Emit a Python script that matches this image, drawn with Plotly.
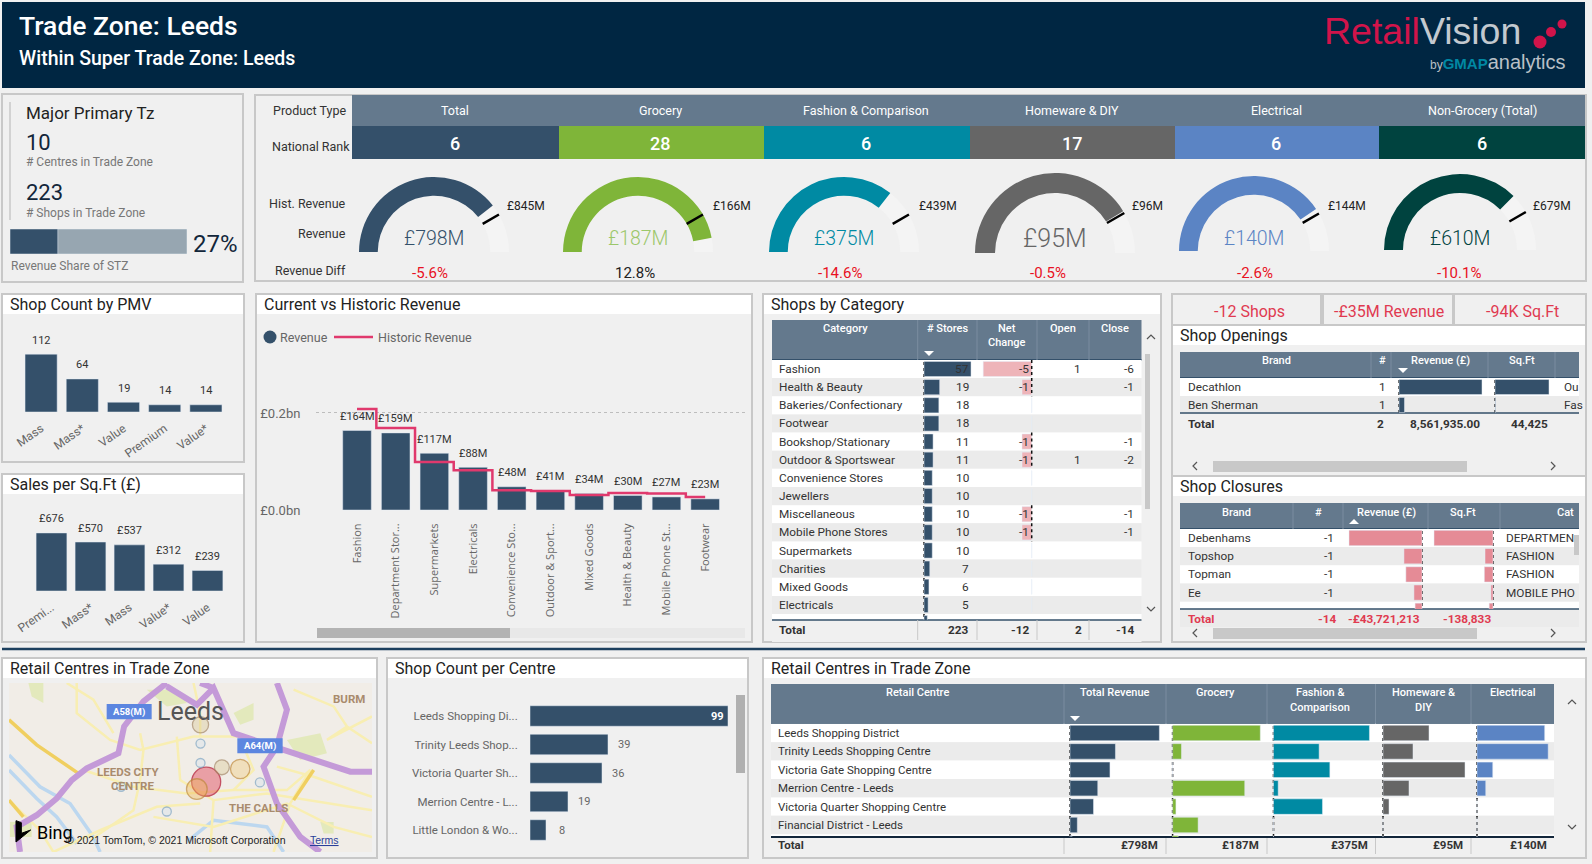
"""plot.py - Retail trade zone dashboard"""

import numpy as np
import plotly.graph_objects as go

W, H = 1592, 864
FONT = "Roboto"
HEAD = "#64798d"
NAVY = "#34506a"
PAGE = "#f0f0f0"
EDGE = "#c8c8c8"
TEXT = "#333333"
GREY = "#666666"
RED = "#e81123"
KPI_RED = "#e03a50"
ROSE = "#e58b96"

# ---- data ----
product_types = ["Total", "Grocery", "Fashion & Comparison", "Homeware & DIY", "Electrical", "Non-Grocery (Total)"]
product_colors = ["#34506a", "#7fb539", "#008aa3", "#666666", "#5b84c4", "#00433f"]
national_rank = [6, 28, 6, 17, 6, 6]
gauge_revenue = [798, 187, 375, 95, 140, 610]
gauge_historic = [845, 166, 439, 96, 144, 679]
gauge_diff = ["-5.6%", "12.8%", "-14.6%", "-0.5%", "-2.6%", "-10.1%"]

revenue_share = 27

pmv_names = ["Mass", "Mass*", "Value", "Premium", "Value*"]
pmv_counts = [112, 64, 19, 14, 14]

sales_names = ["Premi...", "Mass*", "Mass", "Value*", "Value"]
sales_sqft = [676, 570, 537, 312, 239]

rev_names = ["Fashion", "Department Stor...", "Supermarkets", "Electricals", "Convenience Sto...",
             "Outdoor & Sport...", "Mixed Goods", "Health & Beauty", "Mobile Phone St...", "Footwear"]
rev_current = [164, 159, 117, 88, 48, 41, 34, 30, 27, 23]
rev_historic = [208, 169, 99, 82, 41, 39, 31, 35, 34, 27]

cat_names = ["Fashion", "Health & Beauty", "Bakeries/Confectionary", "Footwear", "Bookshop/Stationary",
             "Outdoor & Sportswear", "Convenience Stores", "Jewellers", "Miscellaneous",
             "Mobile Phone Stores", "Supermarkets", "Charities", "Mixed Goods", "Electricals"]
cat_stores = [57, 19, 18, 18, 11, 11, 10, 10, 10, 10, 10, 7, 6, 5, 4]
cat_net = [-5, -1, None, None, -1, -1, None, None, -1, -1, None, None, None, None]
cat_open = [1, None, None, None, None, 1, None, None, None, None, None, None, None, None]
cat_close = [-6, -1, None, None, -1, -2, None, None, -1, -1, None, None, None, None]

kpi_labels = ["-12 Shops", "-£35M Revenue", "-94K Sq.Ft"]

open_brands = ["Decathlon", "Ben Sherman"]
open_count = [1, 1]
open_revenue = [8.03, 0.53]
open_sqft = [44000, 425]
open_cat = ["Ou", "Fas"]

close_brands = ["Debenhams", "Topshop", "Topman", "Ee"]
close_count = [-1, -1, -1, -1]
close_revenue = [-19.0, -4.7, -4.2, -2.1, -1.8]
close_sqft = [-85000, -11500, -12500, -3000, -5500]
close_cat = ["DEPARTMEN", "FASHION", "FASHION", "MOBILE PHO"]

centre_names = ["Leeds Shopping Di...", "Trinity Leeds Shop...", "Victoria Quarter Sh...", "Merrion Centre - L...", "Little London & Wo..."]
centre_shops = [99, 39, 36, 19, 8]

table_centres = ["Leeds Shopping District", "Trinity Leeds Shopping Centre", "Victoria Gate Shopping Centre",
                 "Merrion Centre - Leeds", "Victoria Quarter Shopping Centre", "Financial District - Leeds"]
table_total = [293, 149, 131, 91, 77, 24, 6]
table_grocery = [79, 8, 0, 65, 3, 23, 5]
table_fashion = [143, 68, 84, 7, 73, 0, 0]
table_homeware = [23, 15, 41, 13, 3, 0, 0]
table_electrical = [58, 61, 13.5, 7.5, 0, 0, 0]
table_totals = ["£798M", "£187M", "£375M", "£95M", "£140M"]

map_x = [618, 590, 720, 601, 665, 601, 601, 779, 363, 500]
map_y = [335, 357, 297, 165, 292, 221, 279, 337, 350, 424]
map_revenue = table_total[:5] + [24, 6, 5, 4, 3]
map_fill = ["rgba(224,60,80,.62)", "rgba(240,185,90,.6)", "rgba(240,200,110,.5)", "rgba(215,195,140,.5)",
            "rgba(215,195,140,.5)"] + ["rgba(205,225,240,.45)"] * 5
map_line = ["#b0102c", "#c08a3a", "#c08a3a", "#a58a68", "#a58a68"] + ["#7fa6c4"] * 5

# ---- page helpers, everything in screen pixels ----
shapes = []
annots = []
traces = []
layout_axes = {}
axis_count = 0


def fx(p):
    return p / W


def fy(p):
    return 1 - p / H


def rect(x0, y0, x1, y1, fill=None, line=None, lw=0):
    shapes.append(dict(type="rect", xref="paper", yref="paper", x0=fx(x0), x1=fx(x1), y0=fy(y0), y1=fy(y1),
                       fillcolor=fill, line=dict(color=line, width=lw), layer="below"))


def seg(x0, y0, x1, y1, color, lw=1, dash=None):
    shapes.append(dict(type="line", xref="paper", yref="paper", x0=fx(x0), x1=fx(x1), y0=fy(y0), y1=fy(y1),
                       line=dict(color=color, width=lw, dash=dash), layer="below"))


def circle(cx, cy, r, fill, layer="above"):
    shapes.append(dict(type="circle", xref="paper", yref="paper", x0=fx(cx - r), x1=fx(cx + r),
                       y0=fy(cy - r), y1=fy(cy + r), fillcolor=fill, line=dict(width=0), layer=layer))


def path(points, fill=None, color=None, lw=1, close=False):
    d = "M" + " L".join(f"{fx(x)},{fy(y)}" for x, y in points) + (" Z" if close else "")
    shapes.append(dict(type="path", xref="paper", yref="paper", path=d, fillcolor=fill,
                       line=dict(color=color, width=lw)))


def txt(x, y, s, size=11.5, color=TEXT, anchor="left", weight=None, font=FONT):
    annots.append(dict(text=s, x=fx(x), y=fy(y), xref="paper", yref="paper", xanchor=anchor, yanchor="middle",
                       showarrow=False, align=anchor, borderpad=0,
                       font=dict(size=size, color=color, family=font, weight=weight)))


def panel(x0, y0, x1, y1, title=None, title_x=None):
    rect(x0, y0, x1, y1, PAGE, EDGE, 2)
    if title:
        rect(x0 + 1, y0 + 1, x1 - 1, y0 + 20, "white")
        txt(title_x or x0 + 7, y0 + 10.5, title, 16, "#222222")


def chevron(x, y, d, color="#555555", s=4):
    pts = {"up": [(x - s, y + s / 2), (x, y - s / 2), (x + s, y + s / 2)],
           "down": [(x - s, y - s / 2), (x, y + s / 2), (x + s, y - s / 2)],
           "left": [(x + s / 2, y - s), (x - s / 2, y), (x + s / 2, y + s)],
           "right": [(x - s / 2, y - s), (x + s / 2, y), (x - s / 2, y + s)]}[d]
    path(pts, color=color, lw=1.2)


def sort_arrow(x, y, up=False):
    s = -1 if up else 1
    path([(x - 5, y - 2 * s), (x + 5, y - 2 * s), (x, y + 3 * s)], fill="white", color="white", lw=0, close=True)


def axes(x0, y0, x1, y1, xaxis=None, yaxis=None):
    global axis_count
    axis_count += 1
    n = axis_count
    ax = dict(visible=False, fixedrange=True)
    layout_axes[f"xaxis{n}"] = dict(ax, domain=[fx(x0), fx(x1)], anchor=f"y{n}", **(xaxis or {}))
    layout_axes[f"yaxis{n}"] = dict(ax, domain=[fy(y1), fy(y0)], anchor=f"x{n}", **(yaxis or {}))
    return f"x{n}", f"y{n}"


def vbars(x0, y0, x1, y1, names, values, ymax, labels, width, angle, tick_size=12, label_shift=14):
    xa, ya = axes(x0, y0, x1, y1,
                  dict(visible=True, type="category", dtick=1, tickangle=angle, showline=False, showgrid=False,
                       ticks="outside", ticklen=4, tickcolor="rgba(0,0,0,0)", zeroline=False,
                       tickfont=dict(size=tick_size, color=GREY, family=FONT),
                       range=[-0.5, len(names) - 0.5]),
                  dict(range=[0, ymax]))
    traces.append(go.Bar(x=names, y=values, width=width, marker_color=NAVY, xaxis=xa, yaxis=ya,
                         showlegend=False, hoverinfo="skip"))
    for name, v, s in zip(names, values, labels):
        annots.append(dict(text=s, x=name, y=v, xref=xa, yref=ya, yshift=label_shift, showarrow=False,
                           font=dict(size=11, color=TEXT, family=FONT)))


def table_bars(values, base, scale, left, right, top, bottom, first, step, color, dotted=True, marks=None):
    """horizontal in-cell bars: base is the zero pixel, scale the pixels per unit"""
    xa, ya = axes(left, top, right, bottom,
                  dict(range=[(left - base) / scale, (right - base) / scale]),
                  dict(range=[(bottom - first) / step, (top - first) / step]))
    rows_y = np.arange(len(values))
    traces.append(go.Bar(x=values, y=rows_y, orientation="h", width=0.84, marker_color=color, xaxis=xa, yaxis=ya,
                         showlegend=False, hoverinfo="skip"))
    if dotted:
        seg(base, top + 1, base, bottom, "#111111", 1.5, "dot")
    if marks is not None:
        for i, v in enumerate(marks):
            if v:
                shapes.append(dict(type="line", xref="paper", yref="paper", x0=fx(base), x1=fx(base),
                                   y0=fy(first + step * (i - .5)), y1=fy(first + step * (i + .5)),
                                   line=dict(color="#111111", width=1.5, dash="dot")))


def zebra(x0, x1, first, step, n, bottom):
    for i in range(n):
        a = first + step * (i - .5)
        b = min(first + step * (i + .5), bottom)
        rect(x0, a, x1, b, "white" if i % 2 == 0 else "#ebebeb")


def table_head(x0, y0, x1, y1, seps):
    rect(x0, y0, x1, y1, HEAD)
    seg(x0, y1, x1, y1, NAVY, 2)
    for s in seps:
        seg(s, y0, s, y1, "#7a8da0", 1)


# ---- page chrome ----
rect(2, 2, 1585, 88, "#002642")
txt(18, 26, "Trade Zone: Leeds", 26.5, "white", weight=500)
txt(18, 58, "Within Super Trade Zone: Leeds", 19.5, "white", weight=500)
txt(1323, 31, "<span style='color:#d1144a'>Retail</span><span style='color:#c3c9cf'>Vision</span>", 37.5,
    font="Liberation Sans")
txt(1567, 62, "<span style='color:#b9c0c7;font-size:12px'>by</span>"
    "<span style='color:#0088a3;font-size:15px'><b>GMAP</b></span>"
    "<span style='color:#b9c0c7'>analytics</span>", 20, anchor="right", font="Liberation Sans")
circle(1540, 42, 6.5, "#d1144a")
circle(1551, 32, 5, "#d1144a")
circle(1562, 24, 4.5, "#d1144a")
seg(2, 649, 1585, 649, "#1c3f5e", 2.5)

# ---- trade zone summary ----
panel(2, 94, 243, 282)
seg(10, 102, 10, 220, EDGE, 1.5)
txt(25, 113, "Major Primary Tz", 17, "#222222")
txt(25, 142, "10", 22, "#12263a")
txt(25, 162, "# Centres in Trade Zone", 12, "#777777")
txt(25, 192, "223", 22, "#12263a")
txt(25, 213, "# Shops in Trade Zone", 12, "#777777")
xa, ya = axes(10, 229, 187, 254, dict(range=[0, 100]), dict(range=[-.5, .5]))
traces.append(go.Bar(x=[100], y=[0], orientation="h", width=1, marker_color="#97a6b1", xaxis=xa, yaxis=ya,
                     showlegend=False, hoverinfo="skip"))
traces.append(go.Bar(x=[revenue_share], y=[0], orientation="h", width=1, marker_color=NAVY, xaxis=xa, yaxis=ya,
                     showlegend=False, hoverinfo="skip"))
txt(192, 244, f"{revenue_share}%", 24, "#12263a")
txt(10, 266, "Revenue Share of STZ", 12, "#777777")

# ---- gauges ----
panel(255, 95, 1586, 281)
col_edges = [352, 559, 764, 970, 1175, 1379, 1585]
title_cx = [455, 660, 866, 1072, 1276, 1482]
gauge_cx = [434, 638, 844, 1055, 1254, 1460]
gauge_base = [252, 252, 252, 253, 251, 250]
gauge_r = [75, 75, 75, 80, 75, 76]
limit_x = [526, 732, 938, 1147, 1347, 1552]
diff_x = [430, 635, 840, 1048, 1255, 1459]
rect(352, 95, 1585, 126, HEAD)
txt(348, 111, "Product Type", 12.5, anchor="right")
txt(351, 147, "National Rank", 12.5, anchor="right")
txt(347, 203, "Hist. Revenue", 12.5, anchor="right")
txt(347, 233, "Revenue", 12.5, anchor="right")
txt(347, 270, "Revenue Diff", 12.5, anchor="right")
for i, name in enumerate(product_types):
    rect(col_edges[i], 126, col_edges[i + 1], 159, product_colors[i])
    txt(title_cx[i], 111, name, 12.5, "white", "center")
    txt(title_cx[i], 143, str(national_rank[i]), 18, "white", "center", 500)
    cx, base, r = gauge_cx[i], gauge_base[i], gauge_r[i]
    traces.append(go.Indicator(
        mode="gauge", value=gauge_revenue[i],
        domain=dict(x=[fx(cx - r), fx(cx + r)], y=[fy(base), fy(base - r)]),
        gauge=dict(shape="angular", axis=dict(range=[0, gauge_historic[i] * 1.2], visible=False),
                   bar=dict(color=product_colors[i], thickness=1), bgcolor="#f4f4f4", borderwidth=0,
                   threshold=dict(line=dict(color="black", width=2.5), thickness=1, value=gauge_historic[i]))))
    big = 25 if gauge_revenue[i] == 95 else 19.5
    opacity_col = "#9cc76a" if i == 1 else product_colors[i]
    txt(cx, 238, f"£{gauge_revenue[i]}M", big, opacity_col, "center", 300)
    txt(limit_x[i], 206, f"£{gauge_historic[i]}M", 12, "#222222", "center")
    txt(diff_x[i], 273, gauge_diff[i], 15, RED if gauge_diff[i].startswith("-") else "#222222", "center")

# ---- small column charts ----
panel(2, 294, 244, 462, "Shop Count by PMV")
vbars(20.5, 350, 226.5, 412, pmv_names, pmv_counts, 120, [str(v) for v in pmv_counts], 0.78, -35)
panel(2, 474, 244, 642, "Sales per Sq.Ft (£)")
vbars(32, 527, 227, 591, sales_names, sales_sqft, 745, [f"£{v}" for v in sales_sqft], 0.79, -35)

# ---- current vs historic ----
panel(256, 294, 752, 642, "Current vs Historic Revenue")
circle(270, 337, 6.5, NAVY)
txt(279, 337, "Revenue", 12.5, GREY)
seg(334, 337, 373, 337, "#e0396d", 2.5)
txt(377, 337, "Historic Revenue", 12.5, GREY)
xa, ya = axes(316, 380, 745, 511,
              dict(visible=True, type="category", dtick=1, tickangle=-90, showgrid=False, showline=False,
                   zeroline=False, ticks="outside", ticklen=7, tickcolor="rgba(0,0,0,0)",
                   tickfont=dict(size=11, color=GREY, family="Open Sans"), range=[-1.06, 10.03]),
              dict(visible=True, range=[-2, 268], tickvals=[0, 200], ticktext=["£0.0bn", "£0.2bn"], showgrid=True,
                   griddash="dot", gridcolor="#bdbdbd", gridwidth=1, zeroline=False, showline=False,
                   ticks="outside", ticklen=12, tickcolor="rgba(0,0,0,0)",
                   tickfont=dict(size=13, color=GREY, family=FONT)))
traces.append(go.Bar(x=rev_names, y=rev_current, width=0.74, marker_color=NAVY, xaxis=xa, yaxis=ya,
                     showlegend=False, hoverinfo="skip"))
traces.append(go.Scatter(x=rev_names, y=rev_historic, mode="lines", line=dict(color="#e0396d", width=2.5, shape="hvh"),
                         xaxis=xa, yaxis=ya, showlegend=False, hoverinfo="skip"))
for name, v in zip(rev_names, rev_current):
    annots.append(dict(text=f"£{v}M", x=name, y=v, xref=xa, yref=ya, yshift=14, showarrow=False,
                       font=dict(size=11, color=TEXT, family=FONT)))
rect(317, 628, 745, 638, "#e8e8e8")
rect(317, 628, 510, 638, "#b3b3b3")

# ---- shops by category ----
panel(763, 294, 1161, 642, "Shops by Category")
cat_first, cat_step = 369, 18.15
table_head(772, 320, 1141.5, 360, [917.7, 977, 1037, 1089])
for x, s in [(845, "Category"), (947, "# Stores"), (1007, "Net"), (1063, "Open"), (1115, "Close")]:
    txt(x, 328, s, 11, "white", "center", 500)
txt(1007, 343, "Change", 11, "white", "center", 500)
sort_arrow(929, 353)
zebra(772, 1141.5, cat_first, cat_step, 15, 620)
table_bars(cat_stores, 924, 0.825, 920, 977, 361, 620, cat_first, cat_step, NAVY)
table_bars([v if v else 0 for v in cat_net], 1031.7, 9.7, 979, 1037, 361, 620, cat_first, cat_step, "#eeb4b9",
           dotted=False, marks=cat_net)
for i, name in enumerate(cat_names):
    y = cat_first + cat_step * i
    txt(778, y, name, 11.8)
    txt(970, y, str(cat_stores[i]), 11.8, anchor="right")
    if cat_net[i] is not None:
        txt(1030, y, str(cat_net[i]), 11.8, anchor="right")
    if cat_open[i] is not None:
        txt(1082, y, str(cat_open[i]), 11.8, anchor="right")
    if cat_close[i] is not None:
        txt(1135, y, str(cat_close[i]), 11.8, anchor="right")
rect(772, 620, 1141.5, 642, PAGE)
seg(772, 620, 1141.5, 620, NAVY, 1.5)
for s in [917.7, 977, 1037, 1089]:
    seg(s, 620, s, 640, EDGE, 1)
txt(778, 630, "Total", 11.8, weight=700)
txt(970, 630, "223", 11.8, anchor="right", weight=700)
txt(1030, 630, "-12", 11.8, anchor="right", weight=700)
txt(1083, 630, "2", 11.8, anchor="right", weight=700)
txt(1135, 630, "-14", 11.8, anchor="right", weight=700)
rect(1145, 354, 1150, 509, EDGE)
chevron(1151, 337, "up")
chevron(1151, 609, "down")

# ---- kpi strip ----
for (a, b), c, s in zip([(1172, 1321), (1323, 1453), (1454, 1586)], [1249, 1389, 1522], kpi_labels):
    rect(a, 294, b, 325, PAGE, EDGE, 2)
    txt(c, 311, s, 16, KPI_RED, "center")

# ---- shop openings ----
panel(1172, 325, 1586, 476, "Shop Openings", 1179)
open_first, open_step = 387, 18
table_head(1180, 352, 1579, 378, [1371, 1391, 1488, 1555])
for x, s in [(1276, "Brand"), (1382, "#"), (1440, "Revenue (£)"), (1522, "Sq.Ft")]:
    txt(x, 360, s, 11, "white", "center", 500)
sort_arrow(1403, 370)
zebra(1180, 1579, open_first, open_step, 2, 414)
table_bars(open_revenue, 1399, 83 / 8.03, 1395, 1488, 379, 414, open_first, open_step, NAVY)
table_bars(open_sqft, 1495, 54 / 44000, 1491, 1555, 379, 414, open_first, open_step, NAVY)
for i, name in enumerate(open_brands):
    y = open_first + open_step * i
    txt(1187, y, name, 11.8)
    txt(1382, y, str(open_count[i]), 11.8, anchor="center")
    txt(1563, y, open_cat[i], 11.8)
seg(1180, 413, 1579, 413, NAVY, 1.5)
txt(1187, 424, "Total", 11.8, weight=700)
txt(1385, 424, "2", 11.8, anchor="right", weight=700)
txt(1481, 424, "8,561,935.00", 11.8, anchor="right", weight=700)
txt(1549, 424, "44,425", 11.8, anchor="right", weight=700)
rect(1213, 461, 1467, 472, EDGE)
chevron(1195, 466, "left")
chevron(1553, 466, "right")

# ---- shop closures ----
panel(1172, 476, 1586, 642, "Shop Closures", 1179)
close_first, close_step = 538, 18.2
table_head(1180, 503, 1579, 529, [1293, 1343, 1428, 1500])
for x, s in [(1236, "Brand"), (1318, "#"), (1386, "Revenue (£)"), (1463, "Sq.Ft"), (1565, "Cat")]:
    txt(x, 512, s, 11, "white", "center", 500)
sort_arrow(1354, 522, up=True)
zebra(1180, 1579, close_first, close_step, 5, 609)
table_bars(close_revenue, 1422, 73 / 19.0, 1345, 1426, 530, 609, close_first, close_step, ROSE)
table_bars(close_sqft, 1493, 59 / 85000, 1430, 1497, 530, 609, close_first, close_step, ROSE)
for i, name in enumerate(close_brands):
    y = close_first + close_step * i
    txt(1187, y, name, 11.8)
    txt(1335, y, str(close_count[i]), 11.8, anchor="right")
    txt(1505, y, close_cat[i], 11.8)
rect(1180, 609, 1579, 627, "#ebebeb")
seg(1180, 609, 1579, 609, NAVY, 1.5)
txt(1187, 619, "Total", 11.8, KPI_RED, weight=700)
txt(1337, 619, "-14", 11.8, KPI_RED, "right", 700)
txt(1421, 619, "-£43,721,213", 11.8, KPI_RED, "right", 700)
txt(1492, 619, "-138,833", 11.8, KPI_RED, "right", 700)
rect(1213, 628, 1477, 639, EDGE)
chevron(1195, 633, "left")
chevron(1553, 633, "right")
rect(1574, 535, 1579, 555, EDGE)

# ---- map ----
panel(2, 658, 377, 858, "Retail Centres in Trade Zone")
map_left, map_top, map_right, map_bottom = 9, 683, 372, 852
rect(map_left, map_top, map_right, map_bottom, "#f1ede7")
xa, ya = axes(map_left, map_top, map_right, map_bottom, dict(range=[27, 1115]), dict(range=[545, 40]))
map_parks = [
    [(85, 40), (130, 40), (130, 100), (95, 80)],
    [(700, 130), (760, 100), (760, 150), (720, 165)],
    [(860, 210), (960, 190), (980, 250), (900, 270)],
    [(440, 60), (530, 60), (560, 100), (500, 110)],
    [(30, 455), (95, 455), (95, 500), (30, 500)],
    [(960, 455), (1000, 455), (1000, 490), (970, 490)],
]
for p in map_parks:
    traces.append(go.Scatter(x=[q[0] for q in p], y=[q[1] for q in p], fill="toself", fillcolor="#e3e9bc",
                             mode="none", xaxis=xa, yaxis=ya, showlegend=False, hoverinfo="skip"))
map_rivers = [
    [(27, 255), (120, 350), (210, 400), (280, 500), (300, 545)],
    [(27, 300), (110, 385), (170, 440), (230, 520)],
    [(560, 515), (640, 450), (800, 470), (850, 545)],
]
for p in map_rivers:
    traces.append(go.Scatter(x=[q[0] for q in p], y=[q[1] for q in p], mode="lines",
                             line=dict(color="#bcd7ef", width=3.5), xaxis=xa, yaxis=ya, showlegend=False,
                             hoverinfo="skip"))
map_minor = [
    [(230, 40), (230, 130), (330, 210), (420, 240), (580, 200), (720, 200)],
    [(420, 190), (430, 240), (420, 330), (400, 420), (270, 510)],
    [(530, 200), (540, 330), (640, 390), (630, 545)],
    [(250, 300), (400, 350), (560, 370), (700, 360), (860, 360), (930, 300)],
    [(640, 390), (800, 370), (1115, 420)],
    [(880, 60), (1000, 110), (1040, 170), (1115, 220)],
    [(1040, 170), (980, 210), (1115, 140)],
    [(700, 360), (760, 300), (730, 230)],
    [(460, 440), (640, 470), (860, 400), (1000, 470), (1115, 500)],
    [(200, 40), (280, 90), (340, 190)],
    [(160, 545), (300, 480), (470, 410), (600, 400)],
    [(830, 290), (940, 320), (1115, 380)],
    [(930, 300), (870, 400), (820, 545)],
    [(27, 390), (120, 480), (160, 545)],
    [(580, 40), (600, 130), (600, 200)],
]
for p in map_minor:
    traces.append(go.Scatter(x=[q[0] for q in p], y=[q[1] for q in p], mode="lines",
                             line=dict(color="#f8eeb2", width=2.5), xaxis=xa, yaxis=ya, showlegend=False,
                             hoverinfo="skip"))
map_major = [
    [(27, 150), (110, 225), (235, 310)],
    [(940, 300), (880, 390)],
    [(27, 390), (70, 440)],
]
for p in map_major:
    traces.append(go.Scatter(x=[q[0] for q in p], y=[q[1] for q in p], mode="lines",
                             line=dict(color="#f0cf60", width=3.5), xaxis=xa, yaxis=ya, showlegend=False,
                             hoverinfo="skip"))
map_motorways = [
    [(60, 545), (50, 470), (110, 435), (170, 385), (215, 330), (260, 295), (355, 250), (372, 170), (430, 95), (500, 40)],
    [(500, 50), (590, 105), (640, 55), (700, 190), (850, 240), (1050, 305), (1115, 305)],
    [(830, 40), (860, 120), (830, 230), (790, 290), (830, 400), (900, 500), (960, 545)],
    [(600, 40), (640, 55)],
]
for p in map_motorways:
    traces.append(go.Scatter(x=[q[0] for q in p], y=[q[1] for q in p], mode="lines",
                             line=dict(color="#c49ad8", width=6), xaxis=xa, yaxis=ya, showlegend=False,
                             hoverinfo="skip"))
traces.append(go.Scatter(x=map_x, y=map_y, mode="markers", xaxis=xa, yaxis=ya, showlegend=False, hoverinfo="skip",
                         marker=dict(size=map_revenue, sizemode="area", sizeref=2 * max(map_revenue) / 29 ** 2,
                                     sizemin=4.5, color=map_fill, line=dict(color=map_line, width=1.3))))


def mx(v):
    return v / 3


def my(v):
    return 670 + v / 3


txt(mx(570), my(125), "Leeds", 25, "#555555", "center")
rect(mx(320), my(102), mx(455), my(148), "#5c86e0")
rect(mx(712), my(205), mx(848), my(250), "#5c86e0")
shapes[-1]["layer"] = "above"
shapes[-2]["layer"] = "above"
txt(mx(387), my(125), "A58(M)", 9.5, "white", "center", 700)
txt(mx(780), my(227), "A64(M)", 9.5, "white", "center", 700)
txt(mx(385), my(305), "LEEDS CITY", 11.5, "#a98b6d", "center", 700)
txt(mx(397), my(347), "CENTRE", 11.5, "#a98b6d", "center", 700)
txt(mx(775), my(413), "THE CALLS", 11.5, "#a98b6d", "center", 700)
txt(mx(995), my(87), "BURM", 11.5, "#a98b6d", weight=700)
path([(mx(48), my(452)), (mx(64), my(458)), (mx(64), my(490)), (mx(92), my(480)), (mx(48), my(516))], fill="black",
     color="black", close=True)
txt(mx(108), my(487), "Bing", 18, "black")
txt(mx(195), my(510), "© 2021 TomTom, © 2021 Microsoft Corporation", 10.5, "#222222", font="Liberation Sans")
txt(mx(928), my(510), "<u>Terms</u>", 10.5, "#2a3f9a", font="Liberation Sans")

# ---- shop count per centre ----
panel(387, 658, 748, 858, "Shop Count per Centre")
xa, ya = axes(530, 701.75, 735, 844.25, dict(range=[0, 102.5]),
              dict(visible=True, type="category", range=[4.5, -0.5], showgrid=False, zeroline=False, showline=False,
                   ticks="outside", ticklen=9, tickcolor="rgba(0,0,0,0)",
                   tickfont=dict(size=11.5, color=GREY, family=FONT)))
traces.append(go.Bar(x=centre_shops, y=centre_names, orientation="h", width=0.72, marker_color=NAVY, xaxis=xa, yaxis=ya,
                     showlegend=False, hoverinfo="skip"))
for i, (name, v) in enumerate(zip(centre_names, centre_shops)):
    inside = v == max(centre_shops)
    annots.append(dict(text=str(v), x=v, y=name, xref=xa, yref=ya, xshift=-11 if inside else 16, showarrow=False,
                       font=dict(size=11, color="white" if inside else GREY, family=FONT, weight=700 if inside else None)))
rect(736, 695, 745, 773, "#b0b0b0")

# ---- retail centres table ----
panel(763, 658, 1586, 858, "Retail Centres in Trade Zone")
tab_first, tab_step = 733, 18.4
table_head(771, 684, 1554, 724, [1064, 1166, 1267, 1375.5, 1471])
for x, s in [(917, "Retail Centre"), (1114.5, "Total Revenue"), (1215, "Grocery"), (1320, "Fashion &"),
             (1423, "Homeware &"), (1512.5, "Electrical")]:
    txt(x, 692, s, 11, "white", "center", 500)
txt(1320, 707, "Comparison", 11, "white", "center", 500)
txt(1423, 707, "DIY", 11, "white", "center", 500)
sort_arrow(1075, 718)
zebra(771, 1554, tab_first, tab_step, 7, 837)
table_bars(table_total, 1070, 0.305, 1066, 1164, 725, 837, tab_first, tab_step, product_colors[0])
table_bars(table_grocery, 1172.6, 1.11, 1168, 1265, 725, 837, tab_first, tab_step, product_colors[1])
table_bars(table_fashion, 1273.5, 0.671, 1269, 1372, 725, 837, tab_first, tab_step, product_colors[2])
table_bars(table_homeware, 1383, 2.0, 1379, 1470, 725, 837, tab_first, tab_step, product_colors[3])
table_bars(table_electrical, 1477, 1.167, 1473, 1553, 725, 837, tab_first, tab_step, product_colors[4])
for i, name in enumerate(table_centres):
    txt(777, tab_first + tab_step * i, name, 11.5)
rect(771, 837, 1554, 856, PAGE)
seg(771, 837, 1554, 837, "#12263a", 2)
for s in [1064, 1166, 1267, 1375.5, 1471]:
    seg(s, 838, s, 854, EDGE, 1)
txt(777, 845, "Total", 11.5, weight=700)
for x, s in zip([1159, 1260, 1369, 1464, 1547.5], table_totals):
    txt(x, 845, s, 11.5, anchor="right", weight=700)
chevron(1572, 702, "up")
chevron(1572, 827, "down")

# ---- build ----
fig = go.Figure(traces)
fig.update_layout(width=W, height=H, autosize=False,
                  margin=dict(l=0, r=0, t=0, b=0, autoexpand=False), paper_bgcolor=PAGE,
                  plot_bgcolor="rgba(0,0,0,0)", barmode="overlay", showlegend=False, shapes=shapes,
                  annotations=annots, font=dict(family=FONT), **layout_axes)
fig.write_html("out.html", config=dict(displayModeBar=False),
               post_script="document.body.style.margin='0';document.body.style.overflow='hidden';")
